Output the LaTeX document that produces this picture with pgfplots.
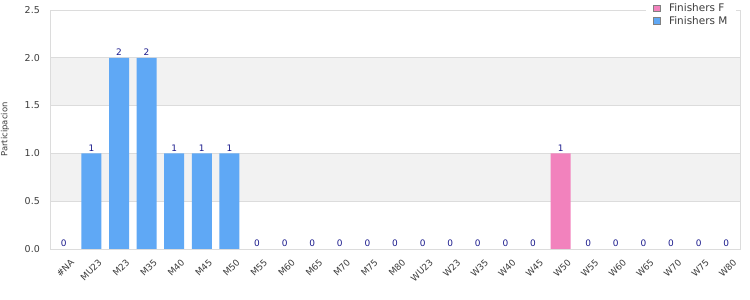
\documentclass[border=0pt]{standalone}
\usepackage{fontspec}
\setmainfont{DejaVu Sans}
\usepackage{pgfplots}
\pgfplotsset{compat=1.18}
\definecolor{barM}{RGB}{95,168,245}
\definecolor{barF}{RGB}{242,130,189}
\definecolor{lbl}{RGB}{26,26,140}
\definecolor{gridc}{RGB}{220,220,220}
\definecolor{band}{RGB}{242,242,242}
\definecolor{txt}{RGB}{60,60,60}
\pgfplotsset{frame/.style={at={(50bp,51bp)}, anchor=south west,
  scale only axis, width=690bp, height=239bp,
  xmin=-0.5, xmax=24.5, ymin=0, ymax=2.5}}
\begin{document}
\begin{tikzpicture}
\useasboundingbox (0,0) rectangle (750bp,300bp);
\begin{axis}[frame, hide axis]
\fill[band] (axis cs:-0.5,0.5) rectangle (axis cs:24.5,1);
\fill[band] (axis cs:-0.5,1.5) rectangle (axis cs:24.5,2);
\end{axis}
\begin{axis}[
  frame,
  xtick={0,...,24},
  xticklabels={\#NA,MU23,M23,M35,M40,M45,M50,M55,M60,M65,M70,M75,M80,WU23,W23,W35,W40,W45,W50,W55,W60,W65,W70,W75,W80},
  x tick label style={rotate=45, anchor=north east, font=\fontsize{9}{10}\selectfont, text=txt, inner sep=0pt, yshift=-11bp, xshift=-2bp},
  ytick={0,0.5,1,1.5,2,2.5},
  yticklabel style={/pgf/number format/.cd, fixed, fixed zerofill, precision=1, /tikz/.cd, font=\fontsize{9.5}{10}\selectfont, text=txt, inner sep=0pt, xshift=-10bp},
  /pgf/number format/assume math mode=true,
  major tick length=0pt,
  ymajorgrids, grid style={gridc, line width=0.7pt},
  axis line style={gridc, line width=0.9pt},
  ylabel={Participacion}, ylabel style={font=\fontsize{8.5}{9}\selectfont, text=txt, at={(axis description cs:0,0.5)}, anchor=center, yshift=45bp},
  ybar, bar width=20bp, bar shift=0pt,
  legend style={at={(axis description cs:0.995,1.04)}, anchor=north east, draw=none, fill=white, font=\fontsize{10.5}{11}\selectfont, text=txt, row sep=-1pt, inner xsep=7pt, inner ysep=1pt, cells={anchor=west}},
  legend image code/.code={\draw[#1, draw=gray, line width=0.7pt] (0cm,-0.12cm) rectangle (0.25cm,0.12cm); \path (0.5cm,0);},
  legend cell align=left,
]
\addplot[fill=barF, draw=none] coordinates {(0,0) (1,0) (2,0) (3,0) (4,0) (5,0) (6,0) (7,0) (8,0) (9,0) (10,0) (11,0) (12,0) (13,0) (14,0) (15,0) (16,0) (17,0) (18,1) (19,0) (20,0) (21,0) (22,0) (23,0) (24,0)};
\addlegendentry{Finishers F}
\addplot[fill=barM, draw=none] coordinates {(0,0) (1,1) (2,2) (3,2) (4,1) (5,1) (6,1) (7,0) (8,0) (9,0) (10,0) (11,0) (12,0) (13,0) (14,0) (15,0) (16,0) (17,0) (18,0) (19,0) (20,0) (21,0) (22,0) (23,0) (24,0)};
\addlegendentry{Finishers M}
\addplot[draw=none, fill=none, forget plot,
  nodes near coords,
  every node near coord/.append style={font=\fontsize{9}{10}\selectfont, text=lbl, inner sep=2pt}] coordinates {(0,0) (1,1) (2,2) (3,2) (4,1) (5,1) (6,1) (7,0) (8,0) (9,0) (10,0) (11,0) (12,0) (13,0) (14,0) (15,0) (16,0) (17,0) (18,1) (19,0) (20,0) (21,0) (22,0) (23,0) (24,0)};
\end{axis}
\end{tikzpicture}
\end{document}
